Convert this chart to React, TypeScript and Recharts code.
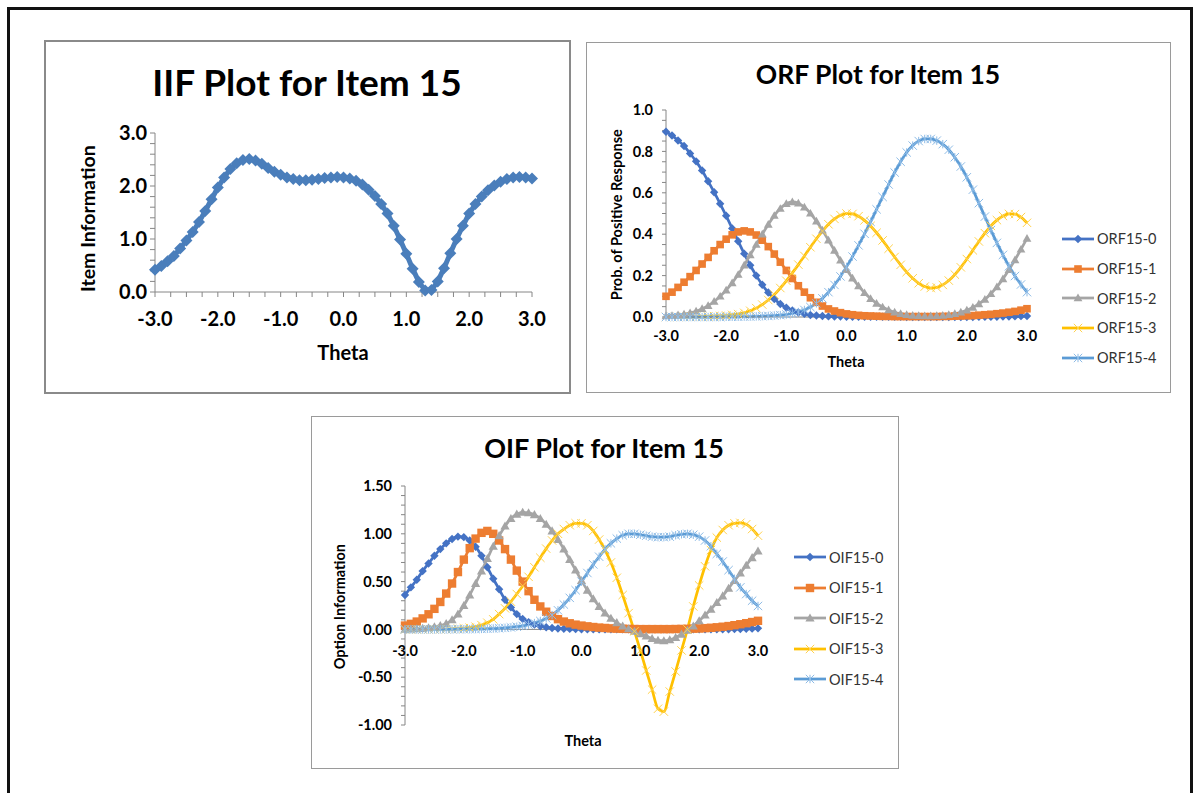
import React from "react";
import { LineChart, Line, XAxis, YAxis, Legend, ReferenceLine } from "recharts";

// theta grid, 0.1 steps
const theta = [
  -3.0, -2.9, -2.8, -2.7, -2.6, -2.5, -2.4, -2.3, -2.2, -2.1,
  -2.0, -1.9, -1.8, -1.7, -1.6, -1.5, -1.4, -1.3, -1.2, -1.1,
  -1.0, -0.9, -0.8, -0.7, -0.6, -0.5, -0.4, -0.3, -0.2, -0.1,
  0.0, 0.1, 0.2, 0.3, 0.4, 0.5, 0.6, 0.7, 0.8, 0.9,
  1.0, 1.1, 1.2, 1.3, 1.4, 1.5, 1.6, 1.7, 1.8, 1.9,
  2.0, 2.1, 2.2, 2.3, 2.4, 2.5, 2.6, 2.7, 2.8, 2.9,
  3.0,
];

const iifValues = [
  0.42, 0.49, 0.58, 0.68, 0.82, 0.97, 1.13, 1.32, 1.53, 1.75,
  1.97, 2.16, 2.32, 2.43, 2.49, 2.51, 2.48, 2.42, 2.34, 2.27,
  2.21, 2.16, 2.13, 2.11, 2.11, 2.12, 2.13, 2.15, 2.16, 2.17,
  2.16, 2.14, 2.10, 2.03, 1.93, 1.81, 1.66, 1.48, 1.25, 0.99,
  0.72, 0.44, 0.19, 0.03, 0.04, 0.20, 0.45, 0.73, 1.00, 1.25,
  1.48, 1.66, 1.80, 1.92, 2.01, 2.08, 2.13, 2.16, 2.17, 2.16,
  2.14,
];

const orf0 = [
  0.895, 0.877, 0.853, 0.826, 0.790, 0.752, 0.708, 0.656, 0.603, 0.547,
  0.489, 0.428, 0.366, 0.306, 0.250, 0.200, 0.156, 0.118, 0.087, 0.063,
  0.045, 0.032, 0.022, 0.015, 0.010, 0.007, 0.005, 0.003, 0.002, 0.002,
  0.001, 0.001, 0.001, 0.001, 0.001, 0.001, 0.001, 0.001, 0.001, 0.001,
  0.000, 0.000, 0.000, 0.000, 0.000, 0.000, 0.000, 0.000, 0.000, 0.000,
  0.000, 0.000, 0.001, 0.001, 0.001, 0.001, 0.002, 0.002, 0.003, 0.004,
  0.005,
];
const orf1 = [
  0.100, 0.120, 0.143, 0.168, 0.195, 0.225, 0.256, 0.288, 0.320, 0.350,
  0.376, 0.397, 0.411, 0.416, 0.411, 0.396, 0.371, 0.340, 0.304, 0.265,
  0.225, 0.186, 0.151, 0.120, 0.093, 0.071, 0.053, 0.039, 0.029, 0.021,
  0.015, 0.011, 0.008, 0.006, 0.005, 0.004, 0.003, 0.003, 0.002, 0.002,
  0.002, 0.002, 0.002, 0.002, 0.002, 0.002, 0.003, 0.003, 0.004, 0.005,
  0.006, 0.007, 0.009, 0.011, 0.013, 0.016, 0.019, 0.023, 0.027, 0.033,
  0.040,
];
const orf2 = [
  0.005, 0.007, 0.010, 0.014, 0.020, 0.028, 0.040, 0.055, 0.075, 0.100,
  0.130, 0.165, 0.205, 0.250, 0.300, 0.350, 0.400, 0.447, 0.490, 0.524,
  0.547, 0.556, 0.550, 0.531, 0.501, 0.463, 0.419, 0.371, 0.322, 0.274,
  0.229, 0.188, 0.150, 0.117, 0.089, 0.066, 0.048, 0.034, 0.023, 0.016,
  0.011, 0.008, 0.006, 0.005, 0.005, 0.006, 0.008, 0.011, 0.016, 0.023,
  0.033, 0.046, 0.063, 0.085, 0.112, 0.145, 0.184, 0.228, 0.276, 0.327,
  0.380,
];
const orf3 = [
  0.000, 0.000, 0.000, 0.001, 0.001, 0.001, 0.002, 0.003, 0.004, 0.005,
  0.007, 0.010, 0.014, 0.020, 0.030, 0.043, 0.060, 0.082, 0.108, 0.140,
  0.175, 0.213, 0.253, 0.295, 0.337, 0.378, 0.415, 0.448, 0.474, 0.492,
  0.500, 0.498, 0.487, 0.467, 0.440, 0.407, 0.370, 0.330, 0.290, 0.252,
  0.217, 0.187, 0.163, 0.147, 0.140, 0.143, 0.155, 0.176, 0.205, 0.240,
  0.280, 0.322, 0.365, 0.405, 0.440, 0.468, 0.488, 0.498, 0.497, 0.483,
  0.455,
];
const orf4 = [
  0.000, 0.000, 0.000, 0.000, 0.000, 0.000, 0.000, 0.000, 0.000, 0.000,
  0.001, 0.001, 0.001, 0.002, 0.002, 0.003, 0.004, 0.005, 0.007, 0.009,
  0.012, 0.017, 0.024, 0.034, 0.048, 0.066, 0.090, 0.120, 0.155, 0.196,
  0.242, 0.292, 0.346, 0.402, 0.460, 0.520, 0.580, 0.640, 0.698, 0.750,
  0.795, 0.828, 0.850, 0.860, 0.860, 0.852, 0.835, 0.808, 0.772, 0.727,
  0.675, 0.615, 0.550, 0.485, 0.420, 0.358, 0.300, 0.245, 0.198, 0.157,
  0.120,
];

const oif0 = [
  0.360, 0.440, 0.520, 0.610, 0.690, 0.770, 0.840, 0.900, 0.945, 0.970,
  0.965, 0.930, 0.865, 0.770, 0.650, 0.530, 0.420, 0.310, 0.230, 0.160,
  0.110, 0.075, 0.050, 0.033, 0.022, 0.015, 0.010, 0.007, 0.005, 0.003,
  0.002, 0.001, 0.001, 0.000, 0.000, 0.000, 0.000, 0.000, 0.000, 0.000,
  0.000, 0.000, 0.000, 0.000, 0.000, 0.000, 0.000, 0.000, 0.000, 0.000,
  0.000, 0.000, 0.001, 0.001, 0.002, 0.002, 0.003, 0.004, 0.006, 0.008,
  0.011,
];
const oif1 = [
  0.040, 0.058, 0.082, 0.115, 0.158, 0.215, 0.287, 0.375, 0.480, 0.600,
  0.730, 0.850, 0.950, 1.010, 1.030, 1.000, 0.930, 0.840, 0.730, 0.615,
  0.500, 0.400, 0.310, 0.240, 0.185, 0.140, 0.107, 0.082, 0.064, 0.050,
  0.040, 0.032, 0.025, 0.019, 0.015, 0.011, 0.008, 0.006, 0.005, 0.004,
  0.003, 0.003, 0.003, 0.003, 0.003, 0.003, 0.004, 0.005, 0.006, 0.008,
  0.010, 0.013, 0.017, 0.022, 0.028, 0.035, 0.044, 0.054, 0.065, 0.077,
  0.090,
];
const oif2 = [
  0.000, 0.003, 0.006, 0.010, 0.017, 0.027, 0.040, 0.060, 0.100, 0.160,
  0.250, 0.360, 0.480, 0.610, 0.740, 0.870, 0.980, 1.080, 1.160, 1.205,
  1.225, 1.220, 1.200, 1.160, 1.100, 1.030, 0.940, 0.840, 0.730, 0.620,
  0.510, 0.410, 0.320, 0.240, 0.170, 0.115, 0.070, 0.035, 0.005, -0.020,
  -0.045, -0.070, -0.095, -0.115, -0.120, -0.110, -0.085, -0.050, -0.010, 0.035,
  0.090, 0.150, 0.210, 0.280, 0.350, 0.430, 0.510, 0.590, 0.670, 0.750,
  0.820,
];
const oif3 = [
  0.000, 0.000, 0.000, 0.001, 0.001, 0.002, 0.002, 0.003, 0.005, 0.008,
  0.012, 0.018, 0.028, 0.045, 0.070, 0.105, 0.160, 0.220, 0.290, 0.370,
  0.455, 0.550, 0.650, 0.750, 0.845, 0.930, 1.000, 1.050, 1.090, 1.110,
  1.110, 1.090, 1.030, 0.940, 0.830, 0.700, 0.540, 0.360, 0.170, -0.020,
  -0.220, -0.430, -0.630, -0.830, -0.860, -0.650, -0.440, -0.220, 0.000, 0.240,
  0.460, 0.660, 0.830, 0.960, 1.040, 1.090, 1.110, 1.115, 1.100, 1.050,
  0.980,
];
const oif4 = [
  0.000, 0.000, 0.000, 0.000, 0.000, 0.000, 0.001, 0.001, 0.001, 0.002,
  0.002, 0.003, 0.004, 0.005, 0.007, 0.009, 0.012, 0.016, 0.021, 0.028,
  0.037, 0.050, 0.066, 0.088, 0.115, 0.150, 0.200, 0.260, 0.330, 0.410,
  0.500, 0.590, 0.680, 0.760, 0.840, 0.900, 0.950, 0.985, 1.000, 1.000,
  0.990, 0.980, 0.970, 0.965, 0.965, 0.970, 0.985, 0.995, 1.000, 0.990,
  0.970, 0.930, 0.870, 0.790, 0.710, 0.620, 0.530, 0.440, 0.370, 0.300,
  0.245,
];

// ticks
const iifXTicks = [-3, -2.75, -2.5, -2.25, -2, -1.75, -1.5, -1.25, -1, -0.75, -0.5, -0.25, 0, 0.25, 0.5, 0.75, 1, 1.25, 1.5, 1.75, 2, 2.25, 2.5, 2.75, 3];
const iifYTicks = [0, 0.2, 0.4, 0.6, 0.8, 1, 1.2, 1.4, 1.6, 1.8, 2, 2.2, 2.4, 2.6, 2.8, 3];
const thetaTicks = [-3, -2, -1, 0, 1, 2, 3];
const orfYTicks = [0, 0.05, 0.1, 0.15, 0.2, 0.25, 0.3, 0.35, 0.4, 0.45, 0.5, 0.55, 0.6, 0.65, 0.7, 0.75, 0.8, 0.85, 0.9, 0.95, 1];
const oifYTicks = [-1, -0.9, -0.8, -0.7, -0.6, -0.5, -0.4, -0.3, -0.2, -0.1, 0, 0.1, 0.2, 0.3, 0.4, 0.5, 0.6, 0.7, 0.8, 0.9, 1, 1.1, 1.2, 1.3, 1.4, 1.5];

const orfNames = ["ORF15-0", "ORF15-1", "ORF15-2", "ORF15-3", "ORF15-4"];
const oifNames = ["OIF15-0", "OIF15-1", "OIF15-2", "OIF15-3", "OIF15-4"];

const rows = theta.map((t, i) => ({
  theta: t,
  iif: iifValues[i],
  orf0: orf0[i], orf1: orf1[i], orf2: orf2[i], orf3: orf3[i], orf4: orf4[i],
  oif0: oif0[i], oif1: oif1[i], oif2: oif2[i], oif3: oif3[i], oif4: oif4[i],
}));

const FONT = "Lato, 'Open Sans', sans-serif";
const AXIS = "#868686";

type Shape = "diamond" | "square" | "triangle" | "x" | "star";

function Marker({ shape, cx, cy, s, color }: { shape: Shape; cx: number; cy: number; s: number; color: string }) {
  if (shape === "diamond")
    return <path d={`M${cx} ${cy - s}L${cx + s} ${cy}L${cx} ${cy + s}L${cx - s} ${cy}Z`} fill={color} />;
  if (shape === "square") return <rect x={cx - s} y={cy - s} width={2 * s} height={2 * s} fill={color} />;
  if (shape === "triangle")
    return <path d={`M${cx} ${cy - s}L${cx + s} ${cy + s * 0.75}L${cx - s} ${cy + s * 0.75}Z`} fill={color} />;
  if (shape === "x")
    return (
      <path d={`M${cx - s} ${cy - s}L${cx + s} ${cy + s}M${cx + s} ${cy - s}L${cx - s} ${cy + s}`} stroke={color} strokeWidth={1} fill="none" />
    );
  return (
    <path
      d={`M${cx - s} ${cy - s}L${cx + s} ${cy + s}M${cx + s} ${cy - s}L${cx - s} ${cy + s}M${cx} ${cy - s}L${cx} ${cy + s}`}
      stroke={color}
      strokeWidth={1}
      fill="none"
    />
  );
}

const makeDot = (shape: Shape, s: number, color: string) => (p: any) => {
  if (p.cx == null || p.cy == null) return <g key={`d-${p.index}`} />;
  return (
    <g key={`d-${p.index}`}>
      <Marker shape={shape} cx={p.cx} cy={p.cy} s={s} color={color} />
    </g>
  );
};

interface SeriesDef {
  key: string;
  name: string;
  color: string;
  markColor: string;
  shape: Shape;
  size: number;
}

const orfSeries: SeriesDef[] = [
  { key: "orf0", name: orfNames[0], color: "#4472C4", markColor: "#4472C4", shape: "diamond", size: 4.2 },
  { key: "orf1", name: orfNames[1], color: "#ED7D31", markColor: "#ED7D31", shape: "square", size: 3.8 },
  { key: "orf2", name: orfNames[2], color: "#A5A5A5", markColor: "#A5A5A5", shape: "triangle", size: 4.4 },
  { key: "orf3", name: orfNames[3], color: "#FFC000", markColor: "#FFD24D", shape: "x", size: 4.2 },
  { key: "orf4", name: orfNames[4], color: "#5B9BD5", markColor: "#8DBBE6", shape: "star", size: 4.2 },
];
const oifSeries: SeriesDef[] = [
  { key: "oif0", name: oifNames[0], color: "#4472C4", markColor: "#4472C4", shape: "diamond", size: 4.2 },
  { key: "oif1", name: oifNames[1], color: "#ED7D31", markColor: "#ED7D31", shape: "square", size: 4.2 },
  { key: "oif2", name: oifNames[2], color: "#A5A5A5", markColor: "#A5A5A5", shape: "triangle", size: 4.6 },
  { key: "oif3", name: oifNames[3], color: "#FFC000", markColor: "#FFD24D", shape: "x", size: 4.2 },
  { key: "oif4", name: oifNames[4], color: "#5B9BD5", markColor: "#8DBBE6", shape: "star", size: 4.2 },
];

const LegendList = ({ series, rowH }: { series: SeriesDef[]; rowH: number }) => (
  <div style={{ fontFamily: FONT, fontSize: 14.5, color: "#333" }}>
    {series.map((s) => (
      <div key={s.key} style={{ display: "flex", alignItems: "center", height: rowH }}>
        <svg width={32} height={14} style={{ display: "block" }}>
          <line x1={0} y1={7} x2={32} y2={7} stroke={s.color} strokeWidth={2.75} />
          <Marker shape={s.shape} cx={16} cy={7} s={s.size} color={s.markColor} />
        </svg>
        <span style={{ marginLeft: 3, whiteSpace: "nowrap" }}>{s.name}</span>
      </div>
    ))}
  </div>
);

const isMultiple = (v: number, step: number) => Math.abs(v / step - Math.round(v / step)) < 1e-6;

const tickFont = (size: number) => ({ fill: "#000", fontSize: size, fontWeight: 700, fontFamily: FONT });

// OIF plot geometry (chart coords)
const OIF_TOP = 69;
const OIF_PLOT_H = 239;
const OIF_ZERO = OIF_TOP + OIF_PLOT_H * (1.5 / 2.5);

const OifXTick = (p: any) => (
  <text x={p.x} y={OIF_ZERO + 21} textAnchor="middle" dominantBaseline="central" fill="#000" fontSize={14.5} fontWeight={700} fontFamily={FONT}>
    {Number(p.payload.value).toFixed(1)}
  </text>
);

const TextAt = ({ x, y, size, children, bold = true }: { x: number; y: number; size: number; children: React.ReactNode; bold?: boolean }) => (
  <div
    style={{
      position: "absolute",
      left: x - 300,
      top: y - size * 0.53,
      width: 600,
      textAlign: "center",
      fontSize: size,
      lineHeight: 1,
      fontWeight: bold ? 700 : 400,
      fontFamily: FONT,
      color: "#000",
      whiteSpace: "nowrap",
    }}
  >
    {children}
  </div>
);

const RotText = ({ x, y, size, children }: { x: number; y: number; size: number; children: React.ReactNode }) => (
  <div
    style={{
      position: "absolute",
      left: x - 150,
      top: y - size * 0.6,
      width: 300,
      height: size * 1.2,
      lineHeight: `${size * 1.2}px`,
      textAlign: "center",
      fontSize: size,
      fontWeight: 700,
      fontFamily: FONT,
      color: "#000",
      whiteSpace: "nowrap",
      transform: "rotate(-90deg)",
      transformOrigin: "50% 50%",
    }}
  >
    {children}
  </div>
);

const boxStyle = (left: number, top: number, width: number, height: number, border: string): React.CSSProperties => ({
  position: "absolute",
  left,
  top,
  width,
  height,
  border,
  boxSizing: "border-box",
  background: "#fff",
});

export default function App() {
  return (
    <div style={{ position: "absolute", left: 0, top: 0, width: 1197, height: 793, overflow: "hidden", background: "#fff", fontFamily: FONT }}>
      <div style={{ position: "absolute", left: 7, top: 7, width: 1186, height: 900, border: "3px solid #111", boxSizing: "border-box" }} />

      {/* IIF */}
      <div style={boxStyle(44, 40, 527, 354, "2px solid #8a8a8a")}>
        <LineChart width={523} height={350} data={rows} margin={{ top: 91, right: 37, bottom: 70, left: 59 }}>
          <XAxis
            type="number"
            dataKey="theta"
            domain={[-3, 3]}
            ticks={iifXTicks}
            interval={0}
            tickFormatter={(v: number) => (isMultiple(v, 1) ? v.toFixed(1) : "")}
            stroke={AXIS}
            tickSize={5}
            tickMargin={15}
            height={30}
            tick={tickFont(20)}
          />
          <YAxis
            type="number"
            domain={[0, 3]}
            ticks={iifYTicks}
            interval={0}
            tickFormatter={(v: number) => (isMultiple(v, 1) ? v.toFixed(1) : "")}
            stroke={AXIS}
            tickSize={5}
            tickMargin={3}
            width={50}
            tick={tickFont(20)}
          />
          <Line
            type="linear"
            dataKey="iif"
            stroke="#4A7EBB"
            strokeWidth={5}
            dot={makeDot("diamond", 6, "#4A7EBB")}
            activeDot={false}
            isAnimationActive={false}
          />
        </LineChart>
      </div>

      {/* ORF */}
      <div style={boxStyle(586, 42, 585, 351, "1px solid #9a9a9a")}>
        <LineChart width={583} height={349} data={rows} margin={{ top: 67, right: 143, bottom: 45, left: 29 }}>
          <XAxis
            type="number"
            dataKey="theta"
            domain={[-3, 3]}
            ticks={thetaTicks}
            interval={0}
            tickFormatter={(v: number) => v.toFixed(1)}
            stroke={AXIS}
            tickLine={false}
            tickSize={0}
            tickMargin={14}
            height={30}
            tick={tickFont(14.5)}
          />
          <YAxis
            type="number"
            domain={[0, 1]}
            ticks={orfYTicks}
            interval={0}
            tickFormatter={(v: number) => (isMultiple(v, 0.2) ? v.toFixed(1) : "")}
            stroke={AXIS}
            tickSize={4}
            tickMargin={9}
            width={50}
            tick={tickFont(14.5)}
          />
          {orfSeries.map((s) => (
            <Line
              key={s.key}
              type="monotone"
              dataKey={s.key}
              name={s.name}
              stroke={s.color}
              strokeWidth={2.75}
              dot={makeDot(s.shape, s.size, s.markColor)}
              activeDot={false}
              isAnimationActive={false}
            />
          ))}
          <Legend
            layout="vertical"
            align="center"
            verticalAlign="middle"
            wrapperStyle={{ left: 475, top: 181, width: 110 }}
            content={() => <LegendList series={orfSeries} rowH={29.7} />}
          />
        </LineChart>
      </div>

      {/* OIF */}
      <div style={boxStyle(311, 416, 588, 353, "1px solid #9a9a9a")}>
        <LineChart width={586} height={351} data={rows} margin={{ top: OIF_TOP, right: 140, bottom: 23, left: 43 }}>
          <ReferenceLine y={0} stroke={AXIS} />
          <XAxis
            type="number"
            dataKey="theta"
            domain={[-3, 3]}
            ticks={thetaTicks}
            interval={0}
            axisLine={false}
            tickLine={false}
            height={20}
            tick={(p: any) => <OifXTick {...p} />}
          />
          <YAxis
            type="number"
            domain={[-1, 1.5]}
            ticks={oifYTicks}
            interval={0}
            tickFormatter={(v: number) => (isMultiple(v, 0.5) ? v.toFixed(2) : "")}
            stroke={AXIS}
            tickSize={4}
            tickMargin={9}
            width={50}
            tick={tickFont(14.5)}
          />
          {oifSeries.map((s) => (
            <Line
              key={s.key}
              type="monotone"
              dataKey={s.key}
              name={s.name}
              stroke={s.color}
              strokeWidth={2.75}
              dot={makeDot(s.shape, s.size, s.markColor)}
              activeDot={false}
              isAnimationActive={false}
            />
          ))}
          <Legend
            layout="vertical"
            align="center"
            verticalAlign="middle"
            wrapperStyle={{ left: 482, top: 125, width: 110 }}
            content={() => <LegendList series={oifSeries} rowH={30.5} />}
          />
        </LineChart>
      </div>

      {/* titles and axis titles */}
      <TextAt x={307} y={82.5} size={37}>IIF Plot for Item 15</TextAt>
      <TextAt x={878} y={75} size={26.5}>ORF Plot for Item 15</TextAt>
      <TextAt x={604} y={448.5} size={27}>OIF Plot for Item 15</TextAt>

      <TextAt x={343} y={353} size={20}>Theta</TextAt>
      <TextAt x={846} y={363} size={14.5}>Theta</TextAt>
      <TextAt x={583} y={742} size={14.5}>Theta</TextAt>

      <RotText x={88} y={219} size={19.5}>Item Information</RotText>
      <RotText x={617} y={215} size={14.5}>Prob. of Positive Response</RotText>
      <RotText x={340} y={607} size={14.5}>Option Information</RotText>
    </div>
  );
}
